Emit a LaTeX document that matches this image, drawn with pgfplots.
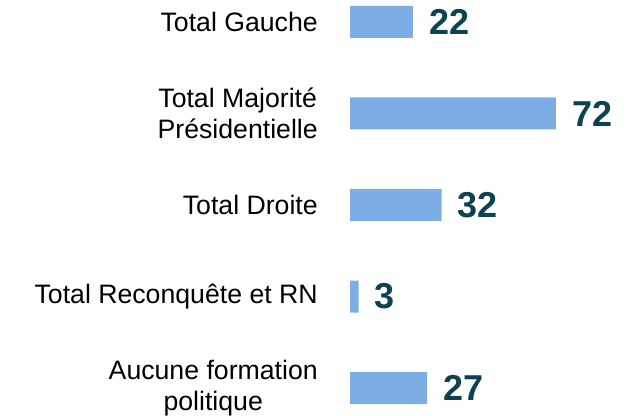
\documentclass[border=0pt]{standalone}
\usepackage{pgfplots}
\pgfplotsset{compat=1.18}
\usepackage{fontspec}
\setmainfont{Liberation Sans}
\definecolor{barblue}{RGB}{126,173,230}
\definecolor{valteal}{RGB}{13,66,82}
\begin{document}
\begin{tikzpicture}[x=1pt,y=1pt]
\path[use as bounding box] (0,0) rectangle (475.5,312);
\begin{axis}[
  at={(262.5pt,21pt)}, anchor=south west,
  scale only axis, width=203.8pt, height=274.5pt,
  xmin=0, xmax=95, ymin=0, ymax=4,
  y dir=reverse,
  xbar, bar width=24pt, bar shift=0pt,
  hide x axis,
  y axis line style={draw=none},
  ytick={0,1,2,3,4},
  yticklabels={Total Gauche,{Total Majorité\\Présidentielle},Total Droite,Total Reconquête et RN,{Aucune formation\\politique}},
  major tick length=0pt,
  ytick style={draw=none},
  y tick label style={align=center, inner sep=0pt, font=\fontsize{20}{23.5}\selectfont, text=black},
  yticklabel shift=24pt,
  clip=false,
  nodes near coords,
  /pgf/number format/assume math mode=true,
  every node near coord/.append style={anchor=west, inner sep=0pt, xshift=12pt, font=\fontsize{27}{30}\selectfont\bfseries, text=valteal},
]
\addplot[fill=barblue, draw=none] coordinates {(22,0) (72,1) (32,2) (3,3) (27,4)};
\end{axis}
\end{tikzpicture}
\end{document}
